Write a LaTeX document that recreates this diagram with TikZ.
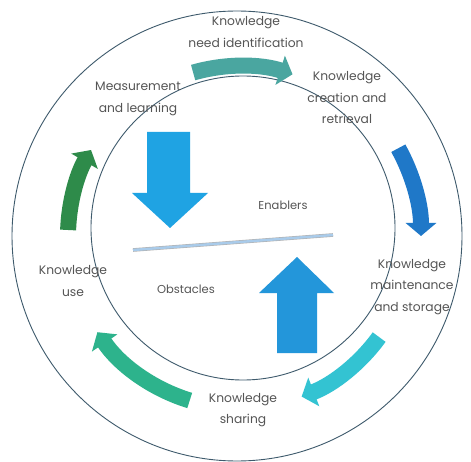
\documentclass[tikz,border=0pt]{standalone}
\usepackage{fontspec}
\setmainfont{Poppins}
\usetikzlibrary{positioning, arrows.meta, calc}

\definecolor{ringline}{HTML}{3E5A6C}
\definecolor{labelgray}{HTML}{555555}
\definecolor{cycteal}{HTML}{4AA6A0}
\definecolor{cycblue}{HTML}{1F78C8}
\definecolor{cyccyan}{HTML}{33C3D2}
\definecolor{cycmint}{HTML}{2DB38C}
\definecolor{cycgreen}{HTML}{2E8B4A}
\definecolor{blockdown}{HTML}{1FA3E3}
\definecolor{blockup}{HTML}{2396DA}
\definecolor{balance}{HTML}{A9CBEA}

\begin{document}
\begin{tikzpicture}[
  x=1pt, y=1pt,
  ring/.style={draw=ringline, line width=0.9pt},
  lbl/.style={
    align=center, text=labelgray, inner sep=0pt,
    font=\fontsize{12.3}{21.5}\selectfont
  },
  small/.style={
    text=labelgray, inner sep=0pt,
    font=\fontsize{11.5}{13}\selectfont
  },
  cyc/.style={line width=16pt, -{Triangle[length=13pt, width=30pt]}},
]

\fill[white] (0,0) rectangle (471,461);
\useasboundingbox (0,0) rectangle (471,461);

% ===== Rings =====
\coordinate (o) at (240,225);
\draw[ring] (237,225) circle[radius=225];
\draw[ring] (243,233) circle[radius=152];

% ===== Cycle arrows =====
\draw[cyc, cycteal]  ($(o)+(106:170)$) arc[start angle=106, end angle=72, radius=170];
\draw[cyc, cycblue]  ($(o)+(29:181)$)  arc[start angle=29, end angle=0, radius=181];
\draw[cyc, cyccyan]  ($(o)+(-36:172)$) arc[start angle=-36, end angle=-69, radius=172];
\draw[cyc, cycmint]  ($(o)+(-107:172)$) arc[start angle=-107, end angle=-146, radius=172];
\draw[cyc, cycgreen] ($(o)+(178:172)$) arc[start angle=178, end angle=150, radius=172];

% ===== Enablers / obstacles =====
\fill[blockdown] (147,329) -- (190,329) -- (190,268) -- (208,268)
  -- (170,233) -- (132,268) -- (147,268) -- cycle;
\fill[blockup] (277,108) -- (317,108) -- (317,168) -- (334,168)
  -- (297,204) -- (259,168) -- (277,168) -- cycle;

\coordinate (bl) at (133,211);
\coordinate (br) at (333,226);
\draw[gray!60, line width=3.6pt] (bl) -- (br);
\draw[balance, line width=2.4pt] (bl) -- (br);

% ===== Labels =====
\node[lbl] (need)    at (246,429) {Knowledge\\need identification};
\node[lbl] (measure) at (138,362) {Measurement\\and learning};
\node[lbl] (create)  at (347,363) {Knowledge\\creation and\\retrieval};
\node[lbl] (maint)   at (412,174) {Knowledge\\maintenance\\and storage};
\node[lbl] (share)   at (243,51)  {Knowledge\\sharing};
\node[lbl] (use)     at (73,180)  {Knowledge\\use};
\node[small] (enab)  at (283,256) {Enablers};
\node[small] (obst)  at (186,172) {Obstacles};

\end{tikzpicture}
\end{document}
